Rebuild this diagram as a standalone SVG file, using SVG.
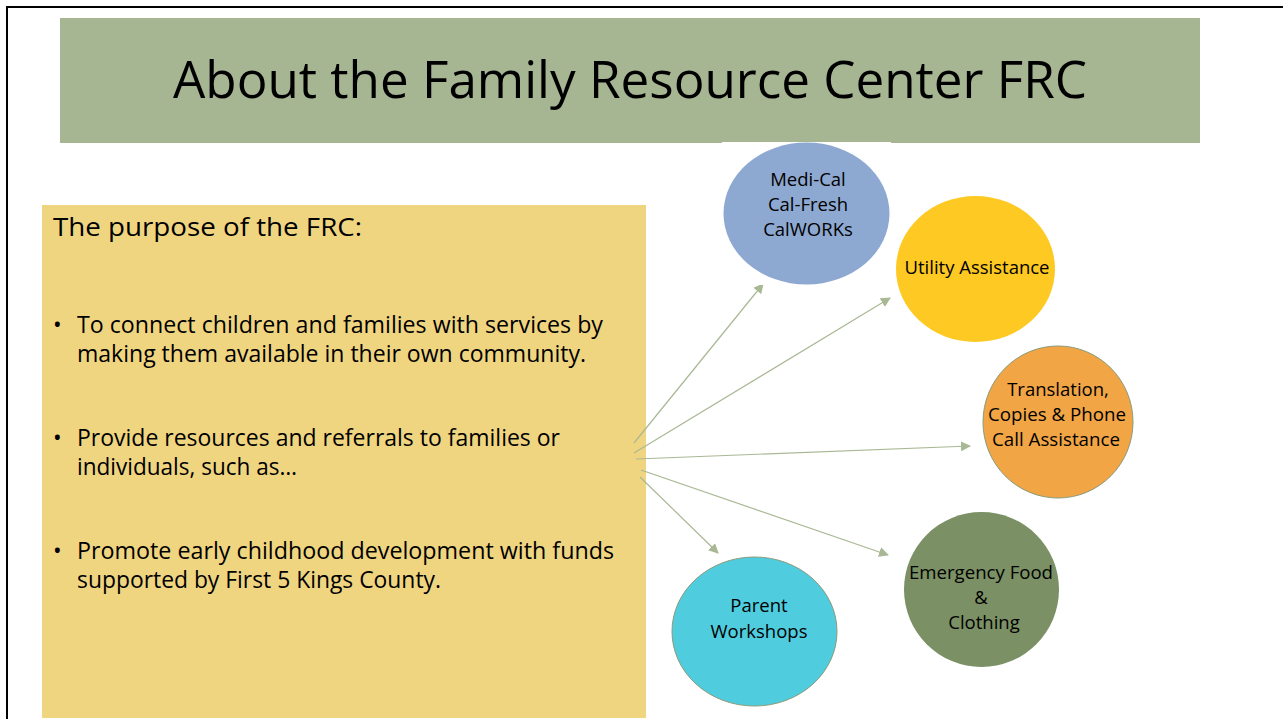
<svg xmlns="http://www.w3.org/2000/svg" width="1283" height="719" viewBox="0 0 1283 719">
<style>
  text { font-family: "Open Sans", "Liberation Sans", sans-serif; fill: #000; }
  .body { font-size: 23px; }
  .node { font-size: 18.5px; text-anchor: middle; }
  .conn { stroke: #A9B894; stroke-width: 1.2; fill: none; marker-end: url(#arrow); }
  .ring { stroke: #8A9A7A; stroke-width: 1; }
</style>
<defs>
  <marker id="arrow" viewBox="0 0 10 10" refX="9" refY="5" markerWidth="10" markerHeight="10" markerUnits="userSpaceOnUse" orient="auto">
    <path d="M0,0 L10,5 L0,10 z" fill="#A9B894"/>
  </marker>
</defs>
<rect width="1283" height="719" fill="#fff"/>
<path d="M7,719 V7 H1283" fill="none" stroke="#000" stroke-width="2"/>

<g id="header">
  <rect x="60" y="18" width="1140" height="125" fill="#A6B592"/>
  <text x="630" y="98" font-size="52" text-anchor="middle" textLength="914" lengthAdjust="spacingAndGlyphs">About the Family Resource Center FRC</text>
</g>

<g id="purpose">
  <rect x="42" y="205" width="604" height="513" fill="#F0D580"/>
  <text x="53" y="236" font-size="25" textLength="309" lengthAdjust="spacingAndGlyphs">The purpose of the FRC:</text>
  <text class="body" x="53" y="333">•</text>
  <text class="body" x="77" y="333" textLength="526" lengthAdjust="spacingAndGlyphs">To connect children and families with services by</text>
  <text class="body" x="77" y="362" textLength="509" lengthAdjust="spacingAndGlyphs">making them available in their own community.</text>
  <text class="body" x="53" y="446">•</text>
  <text class="body" x="77" y="446" textLength="483" lengthAdjust="spacingAndGlyphs">Provide resources and referrals to families or</text>
  <text class="body" x="77" y="475" textLength="220" lengthAdjust="spacingAndGlyphs">individuals, such as…</text>
  <text class="body" x="53" y="559">•</text>
  <text class="body" x="77" y="559" textLength="537" lengthAdjust="spacingAndGlyphs">Promote early childhood development with funds</text>
  <text class="body" x="77" y="588" textLength="364" lengthAdjust="spacingAndGlyphs">supported by First 5 Kings County.</text>
</g>

<g id="connectors">
  <line class="conn" x1="634" y1="443" x2="763" y2="284"/>
  <line class="conn" x1="634" y1="453" x2="890" y2="298"/>
  <line class="conn" x1="636" y1="459" x2="970" y2="446"/>
  <line class="conn" x1="641" y1="470" x2="888" y2="555"/>
  <line class="conn" x1="640" y1="477" x2="718" y2="553"/>
</g>

<g id="medical">
  <rect x="722" y="142" width="169" height="143" fill="#fff"/>
  <ellipse cx="806.5" cy="213.5" rx="83" ry="71" fill="#8EA9D1"/>
  <text class="node" x="808" y="186">Medi-Cal</text>
  <text class="node" x="808" y="211">Cal-Fresh</text>
  <text class="node" x="808" y="236">CalWORKs</text>
</g>

<g id="utility">
  <ellipse cx="975.5" cy="269" rx="79.5" ry="73" fill="#FDC922"/>
  <text class="node" x="977" y="274" textLength="145" lengthAdjust="spacingAndGlyphs">Utility Assistance</text>
</g>

<g id="translation">
  <ellipse class="ring" cx="1058" cy="422" rx="75" ry="76" fill="#F1A545"/>
  <text class="node" x="1058" y="396">Translation,</text>
  <text class="node" x="1057" y="421" textLength="138" lengthAdjust="spacingAndGlyphs">Copies &amp; Phone</text>
  <text class="node" x="1056" y="446" textLength="128" lengthAdjust="spacingAndGlyphs">Call Assistance</text>
</g>

<g id="emergency">
  <ellipse cx="981.5" cy="589.5" rx="77.5" ry="77.5" fill="#7B9064"/>
  <text class="node" x="981" y="579" textLength="144" lengthAdjust="spacingAndGlyphs">Emergency Food</text>
  <text class="node" x="981" y="604">&amp;</text>
  <text class="node" x="984" y="629">Clothing</text>
</g>

<g id="parent">
  <ellipse class="ring" cx="754.5" cy="631.5" rx="82.5" ry="74.5" fill="#4FCDDF"/>
  <text class="node" x="759" y="612">Parent</text>
  <text class="node" x="759" y="638">Workshops</text>
</g>
</svg>
